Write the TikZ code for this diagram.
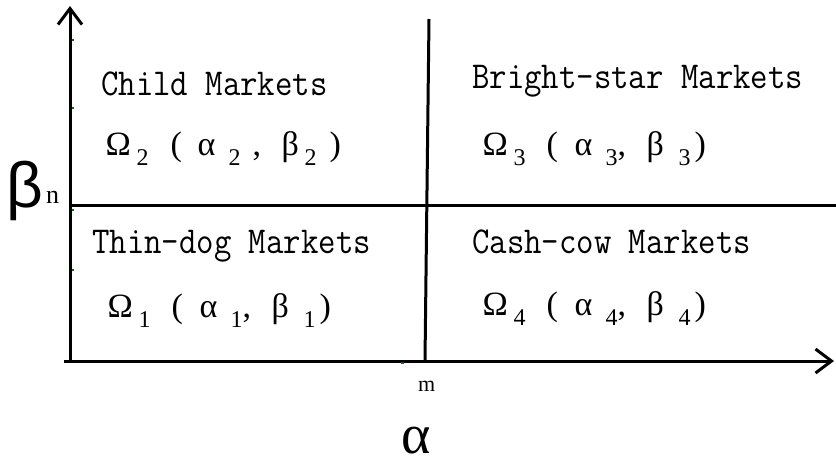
\documentclass[tikz,border=0pt]{standalone}
\usepackage{fontspec}
\usepackage{graphicx}
\usetikzlibrary{arrows.meta}
\newfontfamily\serifgrk{Liberation Serif}
\newfontfamily\sansgrk{Liberation Sans}
\newcommand\mk[1]{\scalebox{0.89}[1]{\fontsize{38}{40}\selectfont\ttfamily #1}}
\newcommand\putat[2]{\makebox[0pt][l]{\hspace*{#1}#2}}
\newcommand\subd[1]{\raisebox{-10pt}{\fontsize{24}{26}\selectfont #1}}
% rows with comma right after subscript
\newcommand\omrowA[1]{{\serifgrk\fontsize{34}{36}\selectfont
  \putat{0pt}{Ω}\putat{31pt}{\subd{#1}}\putat{64pt}{(}\putat{92pt}{α}%
  \putat{123pt}{\subd{#1}}\putat{135pt}{,}\putat{164pt}{β}\putat{196pt}{\subd{#1}}\putat{212pt}{)}}}
% row with space before comma
\newcommand\omrowB[1]{{\serifgrk\fontsize{34}{36}\selectfont
  \putat{0pt}{Ω}\putat{31pt}{\subd{#1}}\putat{65pt}{(}\putat{92pt}{α}%
  \putat{123pt}{\subd{#1}}\putat{147pt}{,}\putat{176pt}{β}\putat{199pt}{\subd{#1}}\putat{224pt}{)}}}
\tikzset{
  axis/.style={line width=3pt, -{Straight Barb[length=16pt,width=24pt,line width=3pt]}},
  divider/.style={line width=3pt},
  lbl/.style={inner sep=0pt, anchor=base west},
  gtick/.style={line width=1.3pt, green!45!black},
}
\begin{document}
\begin{tikzpicture}[x=1pt,y=-1pt]
\useasboundingbox (0,0) rectangle (836,464);
\coordinate (O) at (70,361);
\coordinate (Ostart) at (64,361);
\coordinate (Ytop) at (70,6);
\coordinate (Xend) at (834,361);
\coordinate (Hl) at (70,205);
\coordinate (Hr) at (836,205);
\coordinate (Vt) at (429,19);
\coordinate (Vb) at (425,361);
% dividers
\draw[divider] (Hl) -- (Hr);
\draw[divider] (Vt) -- (Vb);
% axes
\draw[axis] (70,362.5) -- (Ytop);
\draw[axis] (Ostart) -- (Xend);
% tiny green ticks
\foreach \yy in {40,108,210,270} \draw[gtick] (71.5,\yy) -- (74,\yy);
\draw[gtick] (401,363) -- (404,363);
% axis labels
\node[lbl] (beta) at (6,207) {\sansgrk\fontsize{64}{66}\selectfont β};
\node[lbl] (n) at (46,203) {\serifgrk\fontsize{26}{28}\selectfont n};
\node[lbl] (m) at (418,391) {\serifgrk\fontsize{22}{24}\selectfont m};
\node[inner sep=0pt, text depth=0pt, anchor=base] (alpha) at (416,453) {\serifgrk\fontsize{56}{58}\selectfont α};
% quadrant labels
\node[lbl] (child) at (101,95) {\mk{Child Markets}};
\node[lbl] (om2) at (105,155) {\omrowB{2}};
\node[lbl] (star) at (472,88) {\mk{Bright-star Markets}};
\node[lbl] (om3) at (482,155) {\omrowA{3}};
\node[lbl] (thin) at (92,253) {\mk{Thin-dog Markets}};
\node[lbl] (om1) at (107,317) {\omrowA{1}};
\node[lbl] (cash) at (472,253) {\mk{Cash-cow Markets}};
\node[lbl] (om4) at (482,315) {\omrowA{4}};
\end{tikzpicture}
\end{document}
